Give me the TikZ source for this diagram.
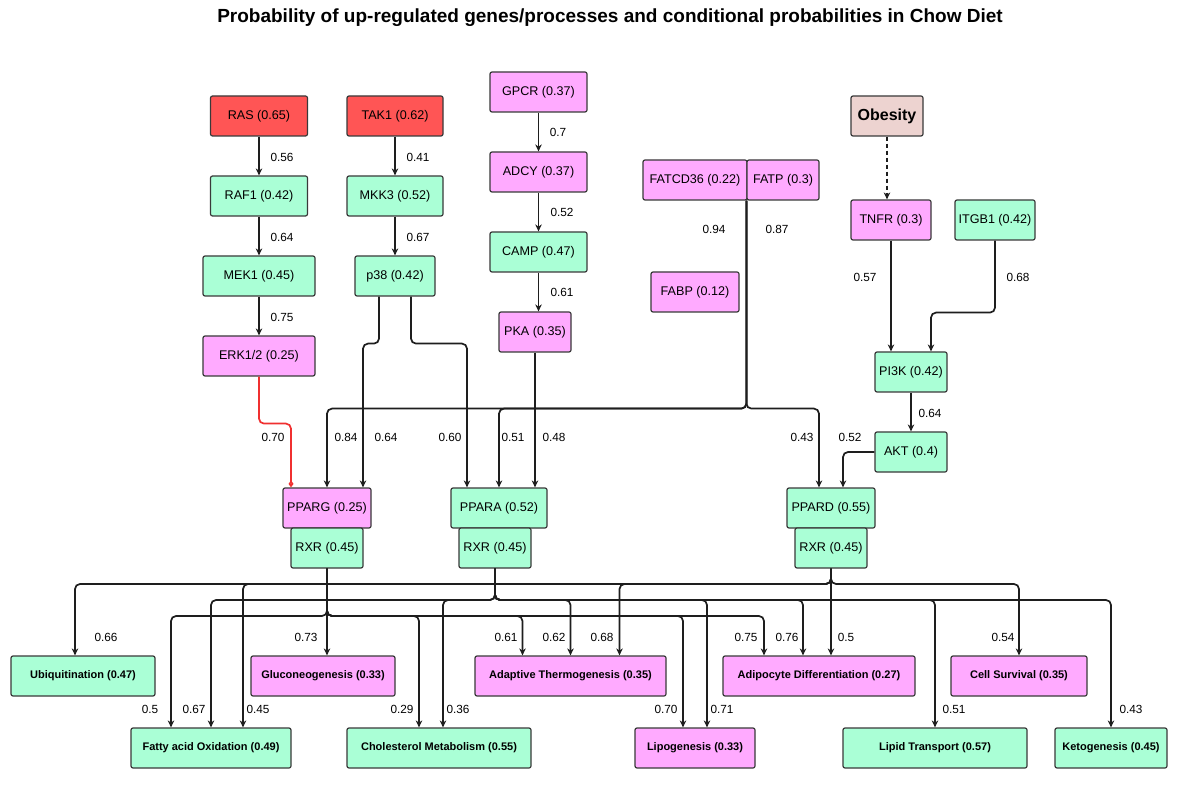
\documentclass[tikz,border=0pt]{standalone}
\usepackage{fontspec}
\setmainfont{Liberation Sans}
\usetikzlibrary{arrows.meta,positioning,calc}
\definecolor{Alarm}{HTML}{FF5555}
\definecolor{Mint}{HTML}{AAFFD6}
\definecolor{Orchid}{HTML}{FFAAFF}
\definecolor{Blush}{HTML}{EDD3D0}
\definecolor{Frame}{HTML}{3A3A3A}
\definecolor{Wire}{HTML}{1E1E1E}
\definecolor{Inhib}{HTML}{F03030}

\begin{document}
\begin{tikzpicture}[x=1pt,y=-1pt,
  gene/.style={draw=Frame,line width=1.2pt,rounded corners=2pt,minimum height=40pt,
    inner sep=1pt,font=\fontsize{12.6}{14}\selectfont},
  redbox/.style={gene,fill=Alarm},
  pinkbox/.style={gene,fill=Orchid},
  mintbox/.style={gene,fill=Mint},
  pinkproc/.style={pinkbox,font=\bfseries\fontsize{11}{13}\selectfont},
  mintproc/.style={mintbox,font=\bfseries\fontsize{11}{13}\selectfont},
  wt/.style={font=\fontsize{11.8}{13}\selectfont,inner sep=0pt},
  arrow/.style={-{Stealth[length=7pt,width=6.5pt]},line width=1.7pt,Wire,rounded corners=5pt}]
  \fill[white] (0,0) rectangle (1179,786);
  \useasboundingbox (0,0) rectangle (1179,786);

  \node[font=\bfseries\fontsize{19}{22}\selectfont] (title) at (610,18)
    {Probability of up-regulated genes/processes and conditional probabilities in Chow Diet};

  \node[redbox,minimum width=97pt] (ras) at (259,116) {RAS (0.65)};
  \node[redbox,minimum width=96pt] (tak1) at (395,116) {TAK1 (0.62)};
  \node[pinkbox,minimum width=97pt] (gpcr) at (538.5,92) {GPCR (0.37)};
  \node[mintbox,minimum width=97pt] (raf1) at (259,196) {RAF1 (0.42)};
  \node[mintbox,minimum width=96pt] (mkk3) at (395,196) {MKK3 (0.52)};
  \node[pinkbox,minimum width=97pt] (adcy) at (538.5,172) {ADCY (0.37)};
  \node[mintbox,minimum width=112pt] (mek1) at (259,276) {MEK1 (0.45)};
  \node[mintbox,minimum width=80pt] (p38) at (395,276) {p38 (0.42)};
  \node[mintbox,minimum width=97pt] (camp) at (538.5,252) {CAMP (0.47)};
  \node[pinkbox,minimum width=112pt] (erk) at (259,356) {ERK1/2 (0.25)};
  \node[pinkbox,minimum width=72pt] (pka) at (535,332) {PKA (0.35)};
  \node[gene,fill=Blush,minimum width=72pt,font=\bfseries\fontsize{16}{18}\selectfont]
    (obesity) at (887,116) {Obesity};
  \node[pinkbox,minimum width=104pt] (fatcd36) at (695,180) {FATCD36 (0.22)};
  \node[pinkbox,minimum width=72pt] (fatp) at (783,180) {FATP (0.3)};
  \node[pinkbox,minimum width=88pt] (fabp) at (695,292) {FABP (0.12)};
  \node[pinkbox,minimum width=80pt] (tnfr) at (891,220) {TNFR (0.3)};
  \node[mintbox,minimum width=80pt] (itgb1) at (995,220) {ITGB1 (0.42)};
  \node[mintbox,minimum width=72pt] (pi3k) at (911,372) {PI3K (0.42)};
  \node[mintbox,minimum width=72pt] (akt) at (911,452) {AKT (0.4)};
  \node[pinkbox,minimum width=88pt] (pparg) at (327,508) {PPARG (0.25)};
  \node[mintbox,minimum width=96pt] (ppara) at (499,508) {PPARA (0.52)};
  \node[mintbox,minimum width=88pt] (ppard) at (831,508) {PPARD (0.55)};
  \node[mintbox,minimum width=72pt] (rxrg) at (327,548) {RXR (0.45)};
  \node[mintbox,minimum width=72pt] (rxra) at (495,548) {RXR (0.45)};
  \node[mintbox,minimum width=72pt] (rxrd) at (831,548) {RXR (0.45)};

  \node[mintproc,minimum width=144pt] (ubiq) at (83,676) {Ubiquitination (0.47)};
  \node[pinkproc,minimum width=144pt] (gluco) at (323,676) {Gluconeogenesis (0.33)};
  \node[pinkproc,minimum width=191pt] (thermo) at (570.5,676) {Adaptive Thermogenesis (0.35)};
  \node[pinkproc,minimum width=192pt] (adipo) at (819,676) {Adipocyte Differentiation (0.27)};
  \node[pinkproc,minimum width=136pt] (surv) at (1019,676) {Cell Survival (0.35)};
  \node[mintproc,minimum width=160pt] (fao) at (211,748) {Fatty acid Oxidation (0.49)};
  \node[mintproc,minimum width=184pt] (chol) at (439,748) {Cholesterol Metabolism (0.55)};
  \node[pinkproc,minimum width=120pt] (lipo) at (695,748) {Lipogenesis (0.33)};
  \node[mintproc,minimum width=184pt] (lipt) at (935,748) {Lipid Transport (0.57)};
  \node[mintproc,minimum width=112pt] (keto) at (1111,748) {Ketogenesis (0.45)};

  \draw[arrow] (ras) -- (raf1);
  \draw[arrow] (raf1) -- (mek1);
  \draw[arrow] (mek1) -- (erk);
  \draw[arrow] (tak1) -- (mkk3);
  \draw[arrow] (mkk3) -- (p38);
  \draw[arrow] (gpcr) -- (adcy);
  \draw[arrow] (adcy) -- (camp);
  \draw[arrow] (camp.south) -- (camp.south |- pka.north);
  \draw[arrow] (pka.south) -- (pka.south |- ppara.north);
  \draw[arrow,Inhib,-{Diamond[open,length=7pt,width=5pt]}] (erk.south) -- ++(0,47) -| ([xshift=-36pt]pparg.north);
  \draw[arrow] ([xshift=-16pt]p38.south) -- ++(0,47) -| ([xshift=36pt]pparg.north);
  \draw[arrow] ([xshift=16pt]p38.south) -- ++(0,47) -| ([xshift=-32pt]ppara.north);
  \draw[arrow] (fatp.south west) -- ++(0,208) -| (pparg.north);
  \draw[arrow] (fatp.south west) -- ++(0,208) -| (ppara.north);
  \draw[arrow] (fatp.south west) -- ++(0,208) -| ([xshift=-12pt]ppard.north);
  \draw[arrow] (akt.west) -| ([xshift=12pt]ppard.north);
  \draw[arrow,dash pattern=on 4pt off 3pt] (obesity.south) -- (obesity.south |- tnfr.north);
  \draw[arrow] (tnfr.south) -- (tnfr.south |- pi3k.north);
  \draw[arrow] (itgb1.south) -- ++(0,72) -| ([xshift=20pt]pi3k.north);
  \draw[arrow] (pi3k) -- (akt);

  \coordinate (busd) at (0,584);
  \coordinate (busa) at (0,600);
  \coordinate (busg) at (0,616);
  \draw[arrow] (rxrd.south) -- (rxrd.south |- busd) -| ([xshift=-8pt]ubiq.north);
  \draw[arrow] (rxrd.south) -- (rxrd.south |- busd) -| ([xshift=32pt]fao.north);
  \draw[arrow] (rxrd.south) -- (rxrd.south |- busd) -| ([xshift=49pt]thermo.north);
  \draw[arrow] (rxrd.south) -- ([xshift=12pt]adipo.north);
  \draw[arrow] (rxrd.south) -- (rxrd.south |- busd) -| (surv.north);
  \draw[arrow] (rxra.south) -- (rxra.south |- busa) -| (fao.north);
  \draw[arrow] (rxra.south) -- (rxra.south |- busa) -| ([xshift=4pt]chol.north);
  \draw[arrow] (rxra.south) -- (rxra.south |- busa) -| (thermo.north);
  \draw[arrow] (rxra.south) -- (rxra.south |- busa) -| ([xshift=12pt]lipo.north);
  \draw[arrow] (rxra.south) -- (rxra.south |- busa) -| ([xshift=-16pt]adipo.north);
  \draw[arrow] (rxra.south) -- (rxra.south |- busa) -| (lipt.north);
  \draw[arrow] (rxra.south) -- (rxra.south |- busa) -| (keto.north);
  \draw[arrow] (rxrg.south) -- (rxrg.south |- busg) -| ([xshift=-40pt]fao.north);
  \draw[arrow] (rxrg.south) -- ([xshift=4pt]gluco.north);
  \draw[arrow] (rxrg.south) -- (rxrg.south |- busg) -| ([xshift=-20pt]chol.north);
  \draw[arrow] (rxrg.south) -- (rxrg.south |- busg) -| ([xshift=-48pt]thermo.north);
  \draw[arrow] (rxrg.south) -- (rxrg.south |- busg) -| ([xshift=-12pt]lipo.north);
  \draw[arrow] (rxrg.south) -- (rxrg.south |- busg) -| ([xshift=-55pt]adipo.north);

  \node[wt] (wRasRaf) at (282,157) {0.56};
  \node[wt] (wTakMkk) at (418,157) {0.41};
  \node[wt] (wRafMek) at (282,237) {0.64};
  \node[wt] (wMkkP) at (418,237) {0.67};
  \node[wt] (wMekErk) at (282,317) {0.75};
  \node[wt] (wGpcr) at (558,132) {0.7};
  \node[wt] (wAdcy) at (562,212) {0.52};
  \node[wt] (wCamp) at (562,292) {0.61};
  \node[wt] (wFatcd) at (714,229) {0.94};
  \node[wt] (wFatp) at (777,229) {0.87};
  \node[wt] (wTnfr) at (865,277) {0.57};
  \node[wt] (wItgb) at (1018,277) {0.68};
  \node[wt] (wPik) at (930,413) {0.64};
  \node[wt] (wErk) at (273,437) {0.70};
  \node[wt] (wFaG) at (346,437) {0.84};
  \node[wt] (wPG) at (386,437) {0.64};
  \node[wt] (wPA) at (450,437) {0.60};
  \node[wt] (wFaA) at (513,437) {0.51};
  \node[wt] (wPka) at (554,437) {0.48};
  \node[wt] (wFaD) at (802,437) {0.43};
  \node[wt] (wAkt) at (850,437) {0.52};

  \node[wt] (wUbi) at (106,637) {0.66};
  \node[wt] (wGlu) at (306,637) {0.73};
  \node[wt] (wThG) at (506,637) {0.61};
  \node[wt] (wThA) at (554,637) {0.62};
  \node[wt] (wThD) at (602,637) {0.68};
  \node[wt] (wAdG) at (746,637) {0.75};
  \node[wt] (wAdA) at (787,637) {0.76};
  \node[wt] (wAdD) at (846,637) {0.5};
  \node[wt] (wSurv) at (1003,637) {0.54};
  \node[wt] (wFoG) at (150,709) {0.5};
  \node[wt] (wFoA) at (194,709) {0.67};
  \node[wt] (wFoD) at (258,709) {0.45};
  \node[wt] (wChG) at (402,709) {0.29};
  \node[wt] (wChA) at (458,709) {0.36};
  \node[wt] (wLiG) at (666,709) {0.70};
  \node[wt] (wLiA) at (722,709) {0.71};
  \node[wt] (wLt) at (954,709) {0.51};
  \node[wt] (wKe) at (1131,709) {0.43};
\end{tikzpicture}
\end{document}
